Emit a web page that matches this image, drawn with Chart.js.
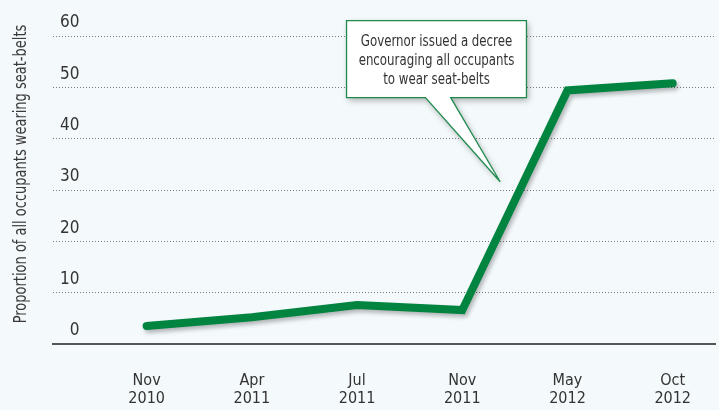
<!DOCTYPE html>
<html>
<head>
<meta charset="utf-8">
<script src="https://cdn.jsdelivr.net/npm/chart.js@4.4.1/dist/chart.umd.min.js"></script>
<style>
  html, body { margin: 0; padding: 0; background: #f4f9fc; }
  #wrap { width: 719px; height: 410px; }
</style>
</head>
<body>
<div id="wrap"><canvas id="chart" width="719" height="410"></canvas></div>
<script>
const periods = [['Nov', '2010'], ['Apr', '2011'], ['Jul', '2011'], ['Nov', '2011'], ['May', '2012'], ['Oct', '2012']];
const seatBeltShare = [3.5, 5.2, 7.6, 6.6, 49.4, 50.8];
const yTicks = [0, 10, 20, 30, 40, 50, 60];
const yTitle = 'Proportion of all occupants wearing seat-belts';
const calloutLines = ['Governor issued a decree', 'encouraging all occupants', 'to wear seat-belts'];

const FONT = '"DejaVu Sans Condensed", "Liberation Sans Narrow", sans-serif';
const GREEN = '#00843f';

// callout box + pointer tip, in data units (x = period index, y = percent)
const callout = { x1: 1.9, x2: 3.61, y1: 63, y2: 48, baseL: 2.65, baseR: 2.89, tipX: 3.36, tipY: 31.6 };

const lineShadow = {
    id: 'lineShadow',
    beforeDatasetDraw(chart) {
        const ctx = chart.ctx;
        ctx.save();
        ctx.shadowColor = 'rgba(0,0,0,0.28)';
        ctx.shadowBlur = 4;
        ctx.shadowOffsetX = 2;
        ctx.shadowOffsetY = 3;
    },
    afterDatasetDraw(chart) {
        chart.ctx.restore();
    }
};

// condensed text helper
const squeezeText = (ctx, text, x, y, sx) => {
    ctx.save();
    ctx.translate(x, y);
    ctx.scale(sx, 1);
    ctx.fillText(text, 0, 0);
    ctx.restore();
};

const extras = {
    id: 'extras',
    afterDraw(chart) {
        const ctx = chart.ctx;
        const xs = chart.scales.x, ys = chart.scales.y;

        // rotated y title
        ctx.save();
        ctx.translate(22, 174);
        ctx.rotate(-Math.PI / 2);
        ctx.font = '17px ' + FONT;
        ctx.fillStyle = '#3a3a3a';
        ctx.textAlign = 'center';
        ctx.textBaseline = 'middle';
        squeezeText(ctx, yTitle, 0, 0, 0.85);
        ctx.restore();

        // callout
        const x1 = xs.getPixelForValue(callout.x1), x2 = xs.getPixelForValue(callout.x2);
        const y1 = ys.getPixelForValue(callout.y1), y2 = ys.getPixelForValue(callout.y2);
        const bl = xs.getPixelForValue(callout.baseL), br = xs.getPixelForValue(callout.baseR);
        const tx = xs.getPixelForValue(callout.tipX), ty = ys.getPixelForValue(callout.tipY);

        ctx.save();
        ctx.beginPath();
        ctx.moveTo(x1, y1);
        ctx.lineTo(x2, y1);
        ctx.lineTo(x2, y2);
        ctx.lineTo(br, y2);
        ctx.lineTo(tx, ty);
        ctx.lineTo(bl, y2);
        ctx.lineTo(x1, y2);
        ctx.closePath();
        ctx.shadowColor = 'rgba(0,0,0,0.3)';
        ctx.shadowBlur = 6;
        ctx.shadowOffsetX = 2;
        ctx.shadowOffsetY = 3;
        ctx.fillStyle = '#ffffff';
        ctx.fill();
        ctx.shadowColor = 'transparent';
        ctx.lineWidth = 1.3;
        ctx.strokeStyle = '#1e8a4c';
        ctx.stroke();

        ctx.font = '16px ' + FONT;
        ctx.fillStyle = '#333';
        ctx.textAlign = 'center';
        ctx.textBaseline = 'middle';
        const cx = (x1 + x2) / 2;
        calloutLines.forEach((t, i) => squeezeText(ctx, t, cx, y1 + 21 + i * 19, 0.82));
        ctx.restore();
    }
};

new Chart(document.getElementById('chart'), {
    type: 'line',
    data: {
        datasets: [{
            data: seatBeltShare.map((v, i) => ({ x: i, y: v })),
            borderColor: GREEN,
            borderWidth: 8,
            borderCapStyle: 'round',
            borderJoinStyle: 'miter',
            pointRadius: 0,
            tension: 0,
            fill: false
        }]
    },
    options: {
        responsive: false,
        animation: false,
        layout: { autoPadding: false, padding: { left: 53, top: 36, right: 0, bottom: 0 } },
        plugins: { legend: { display: false }, tooltip: { enabled: false } },
        scales: {
            x: {
                type: 'linear',
                min: -0.89,
                max: 5.41,
                afterBuildTicks: axis => { axis.ticks = periods.map((p, i) => ({ value: i })); },
                afterFit: axis => { axis.height = 66; },
                grid: { display: false, drawTicks: false },
                border: { display: true, color: '#555', width: 2 },
                ticks: {
                    autoSkip: false,
                    maxRotation: 0,
                    padding: 28,
                    color: '#333',
                    font: { family: FONT, size: 16, lineHeight: 1.125 },
                    callback: v => periods[v]
                }
            },
            y: {
                min: 0,
                max: 60,
                afterBuildTicks: axis => { axis.ticks = yTicks.map(v => ({ value: v })); },
                afterFit: axis => { axis.width = 0; },
                grid: {
                    drawTicks: false,
                    color: c => c.tick && c.tick.value === 0 ? 'rgba(0,0,0,0)' : '#7a7a7a',
                    lineWidth: 1
                },
                border: { display: false, dash: [1, 2] },
                ticks: {
                    mirror: true,
                    crossAlign: 'far',
                    padding: 7,
                    labelOffset: -13,
                    color: '#333',
                    font: { family: FONT, size: 17 }
                }
            }
        }
    },
    plugins: [lineShadow, extras]
});
</script>
</body>
</html>
